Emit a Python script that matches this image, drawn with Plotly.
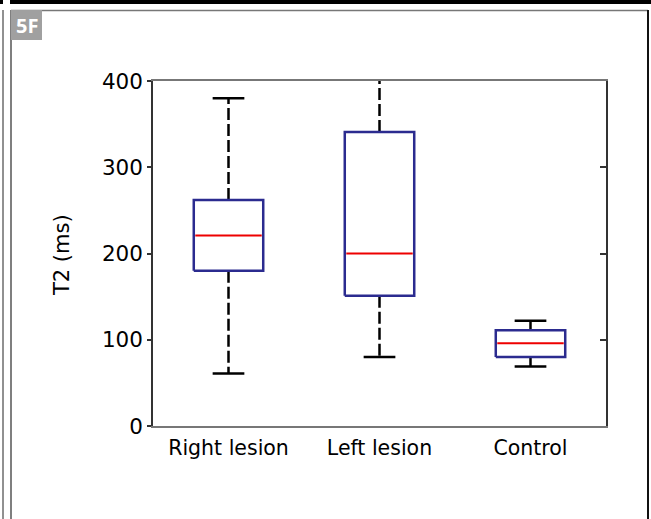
import plotly.graph_objects as go

# ---- data ----
categories = ["Right lesion", "Left lesion", "Control"]
lower_whisker = [61, 80, 69]
q1 = [180, 151, 80]
median = [221, 200, 96]
q3 = [262, 341, 111]
upper_whisker = [380, 430, 122]
y_ticks = [0, 100, 200, 300, 400]

BOX_HALF = 0.23
CAP_HALF = 0.105
BOX_COLOR = "#2b2b8f"
MED_COLOR = "#ee0000"
FONT = "DejaVu Sans"

fig = go.Figure()
positions = list(range(1, len(categories) + 1))

for i, xc in enumerate(positions):
    # whiskers (dashed)
    fig.add_trace(go.Scatter(
        x=[xc, xc, None, xc, xc],
        y=[q3[i], upper_whisker[i], None, q1[i], lower_whisker[i]],
        mode="lines", line=dict(color="black", width=2.5, dash="12px,4px"),
        hoverinfo="skip", showlegend=False, connectgaps=False))
    # caps
    fig.add_trace(go.Scatter(
        x=[xc - CAP_HALF, xc + CAP_HALF, None, xc - CAP_HALF, xc + CAP_HALF],
        y=[upper_whisker[i], upper_whisker[i], None, lower_whisker[i], lower_whisker[i]],
        mode="lines", line=dict(color="black", width=2.5),
        hoverinfo="skip", showlegend=False, connectgaps=False))
    # box
    fig.add_trace(go.Scatter(
        x=[xc - BOX_HALF, xc + BOX_HALF, xc + BOX_HALF, xc - BOX_HALF, xc - BOX_HALF],
        y=[q1[i], q1[i], q3[i], q3[i], q1[i]],
        mode="lines", line=dict(color=BOX_COLOR, width=2.5),
        hoverinfo="skip", showlegend=False))
    # median
    fig.add_trace(go.Scatter(
        x=[xc - BOX_HALF + 0.01, xc + BOX_HALF - 0.01],
        y=[median[i], median[i]],
        mode="lines", line=dict(color=MED_COLOR, width=2),
        hoverinfo="skip", showlegend=False))

W, H = 651, 519
L, R, T, B = 153, 606, 81, 426
PW, PH = R - L, B - T


def px(xp):
    return (xp - L) / PW


def py(yp):
    return (B - yp) / PH


shapes = [
    # top black bar
    dict(type="rect", xref="paper", yref="paper", x0=px(10), x1=px(651), y0=py(0), y1=py(4),
         fillcolor="black", line=dict(width=0), layer="above"),
    dict(type="rect", xref="paper", yref="paper", x0=px(0), x1=px(3), y0=py(0), y1=py(4),
         fillcolor="black", line=dict(width=0), layer="above"),
    # left outer line
    dict(type="line", xref="paper", yref="paper", x0=px(3), x1=px(3), y0=py(10), y1=py(519),
         line=dict(color="#222", width=1)),
    # inner frame top + left
    dict(type="line", xref="paper", yref="paper", x0=px(11), x1=px(648), y0=py(10.5), y1=py(10.5),
         line=dict(color="#777", width=1.5)),
    dict(type="line", xref="paper", yref="paper", x0=px(11), x1=px(11), y0=py(10), y1=py(519),
         line=dict(color="#555", width=1.5)),
    # right dark line
    dict(type="line", xref="paper", yref="paper", x0=px(648), x1=px(648), y0=py(10), y1=py(519),
         line=dict(color="#111", width=2)),
    # 5F badge
    dict(type="rect", xref="paper", yref="paper", x0=px(11), x1=px(42), y0=py(10), y1=py(40),
         fillcolor="#a0a0a0", line=dict(width=0)),
]

annotations = [
    dict(text="<b>5F</b>", xref="paper", yref="paper", x=px(26.5), y=py(26),
         showarrow=False, font=dict(family="Open Sans", size=20, color="white"),
         xanchor="center", yanchor="middle"),
    dict(text="T2 (ms)", xref="paper", yref="paper", x=px(62), y=py(255),
         showarrow=False, textangle=-90, font=dict(family=FONT, size=21, color="black"),
         xanchor="center", yanchor="middle"),
]

fig.update_layout(
    width=W, height=H,
    margin=dict(l=L, r=W - R, t=T, b=H - B, pad=0),
    paper_bgcolor="white", plot_bgcolor="white",
    showlegend=False,
    shapes=shapes, annotations=annotations,
    font=dict(family=FONT, size=21, color="black"),
    xaxis=dict(range=[0.5, 3.5], tickvals=positions, ticktext=categories,
               showgrid=False, zeroline=False, showline=True, linecolor="#777",
               linewidth=1.5, mirror=True, ticks="", tickfont=dict(size=20.5),
               ticklabelstandoff=3),
    yaxis=dict(range=[0, 400], tickvals=y_ticks, showgrid=False, zeroline=False,
               showline=True, linecolor="#333", linewidth=1.5, mirror=True,
               ticks="outside", ticklen=4, tickwidth=1.5, tickcolor="#333",
               tickfont=dict(size=21.5), ticklabelstandoff=0),
    yaxis2=dict(range=[0, 400], tickvals=y_ticks, overlaying="y", side="right",
                showgrid=False, zeroline=False, showline=False, ticks="inside",
                ticklen=6, tickwidth=1.5, tickcolor="#333", showticklabels=False),
)
# invisible trace to activate yaxis2
fig.add_trace(go.Scatter(x=[None], y=[None], yaxis="y2", showlegend=False, hoverinfo="skip"))

fig.write_html("out.html", post_script="document.body.style.margin='0';",
               config={"displayModeBar": False})
